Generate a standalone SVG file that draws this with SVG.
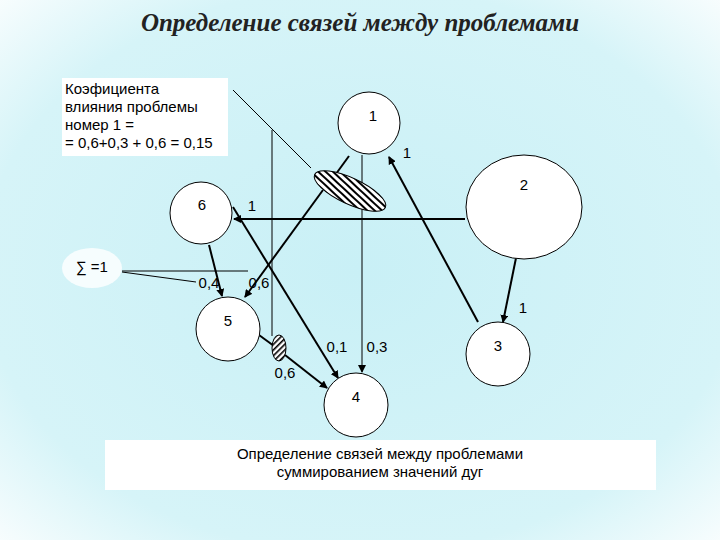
<svg xmlns="http://www.w3.org/2000/svg" width="720" height="540" viewBox="0 0 720 540">
<defs>
<radialGradient id="bg" cx="50%" cy="50%" r="75%">
<stop offset="0" stop-color="#c9f0f6"/><stop offset="0.7" stop-color="#d6f4f8"/><stop offset="1" stop-color="#ffffff"/>
</radialGradient>
<pattern id="hatch" width="5" height="5" patternUnits="userSpaceOnUse" patternTransform="rotate(18)">
<rect width="5" height="5" fill="#fff"/><rect width="5" height="2" fill="#000"/>
</pattern>
<pattern id="hatch2" width="4" height="4" patternUnits="userSpaceOnUse" patternTransform="rotate(-45)">
<rect width="4" height="4" fill="#fff"/><rect width="4" height="1.6" fill="#000"/>
</pattern>
<marker id="ar" markerWidth="8" markerHeight="8" refX="7" refY="4" orient="auto" markerUnits="userSpaceOnUse">
<path d="M0,0 L8,4 L0,8 Z" fill="#000"/>
</marker>
</defs>
<style>
.n{fill:#fff;stroke:#000;stroke-width:1}
.t{font-family:"Liberation Sans",Arial,sans-serif;font-size:15px;fill:#000}
.l{stroke:#000;stroke-width:1;fill:none}
.b{stroke:#000;stroke-width:2;fill:none}
</style>
<rect width="720" height="540" fill="url(#bg)"/>
<text x="360" y="31" text-anchor="middle" font-family="'Liberation Serif',serif" font-size="25" font-weight="bold" font-style="italic" fill="#222">Определение связей между проблемами</text>
<g id="infobox">
<rect x="62" y="78" width="166" height="78" fill="#fff"/>
<text class="t" x="65" y="94">Коэфициента</text>
<text class="t" x="65" y="112">влияния проблемы</text>
<text class="t" x="65" y="130">номер 1 =</text>
<text class="t" x="65" y="148">= 0,6+0,3 + 0,6 = 0,15</text>
</g>
<g id="sum">
<ellipse cx="92" cy="268" rx="30" ry="20" fill="#fff" opacity="0.8"/>
<text class="t" x="76" y="272">∑ =1</text>
</g>
<g id="connectors">
<line class="l" x1="233" y1="90" x2="311" y2="168"/>
<line class="l" x1="272" y1="130" x2="272" y2="336"/>
<line class="l" x1="122" y1="271" x2="248" y2="271"/>
<line class="l" x1="122" y1="272" x2="196" y2="282"/>
<line class="l" x1="362" y1="155" x2="362" y2="372" marker-end="url(#ar)"/>
<line class="b" x1="349" y1="156" x2="333" y2="178"/>
<line class="b" x1="323" y1="190" x2="245" y2="297" marker-end="url(#ar)"/>
<line class="b" x1="465" y1="219" x2="234" y2="219" marker-end="url(#ar)"/>
<line class="b" x1="233" y1="207" x2="338" y2="378" marker-end="url(#ar)"/>
<line class="b" x1="209" y1="245" x2="222" y2="296" marker-end="url(#ar)"/>
<line class="b" x1="478" y1="322" x2="389" y2="157" marker-end="url(#ar)"/>
<line class="b" x1="516" y1="258" x2="503" y2="322" marker-end="url(#ar)"/>
<line class="b" x1="259" y1="335" x2="274" y2="346"/>
<line class="b" x1="285" y1="355" x2="327" y2="388" marker-end="url(#ar)"/>
</g>
<g id="hatched1"><ellipse cx="350" cy="191" rx="39" ry="13" transform="rotate(25 350 191)" fill="url(#hatch)" stroke="#000"/></g>
<g id="hatched2"><ellipse cx="279" cy="348" rx="7" ry="13" fill="url(#hatch2)" stroke="#000"/></g>
<g id="node1"><circle class="n" cx="369" cy="123" r="31"/><text class="t" x="373" y="121" text-anchor="middle">1</text></g>
<g id="node2"><ellipse class="n" cx="524" cy="207" rx="58" ry="52"/><text class="t" x="524" y="190" text-anchor="middle">2</text></g>
<g id="node3"><circle class="n" cx="498" cy="354" r="32"/><text class="t" x="498" y="351" text-anchor="middle">3</text></g>
<g id="node4"><circle class="n" cx="356" cy="405" r="32"/><text class="t" x="356" y="402" text-anchor="middle">4</text></g>
<g id="node5"><circle class="n" cx="228" cy="329" r="32"/><text class="t" x="228" y="326" text-anchor="middle">5</text></g>
<g id="node6"><circle class="n" cx="201" cy="213" r="31"/><text class="t" x="202" y="210" text-anchor="middle">6</text></g>
<g id="labels">
<text class="t" x="407" y="158" text-anchor="middle">1</text>
<text class="t" x="252" y="211" text-anchor="middle">1</text>
<text class="t" x="523" y="313" text-anchor="middle">1</text>
<text class="t" x="209" y="288" text-anchor="middle">0,4</text>
<text class="t" x="259" y="288" text-anchor="middle">0,6</text>
<text class="t" x="337" y="352" text-anchor="middle">0,1</text>
<text class="t" x="377" y="352" text-anchor="middle">0,3</text>
<text class="t" x="285" y="378" text-anchor="middle">0,6</text>
</g>
<g id="caption">
<rect x="105" y="440" width="551" height="50" fill="#fff"/>
<text class="t" x="380" y="459" text-anchor="middle">Определение связей между проблемами</text>
<text class="t" x="380" y="477" text-anchor="middle">суммированием значений дуг</text>
</g>
</svg>
